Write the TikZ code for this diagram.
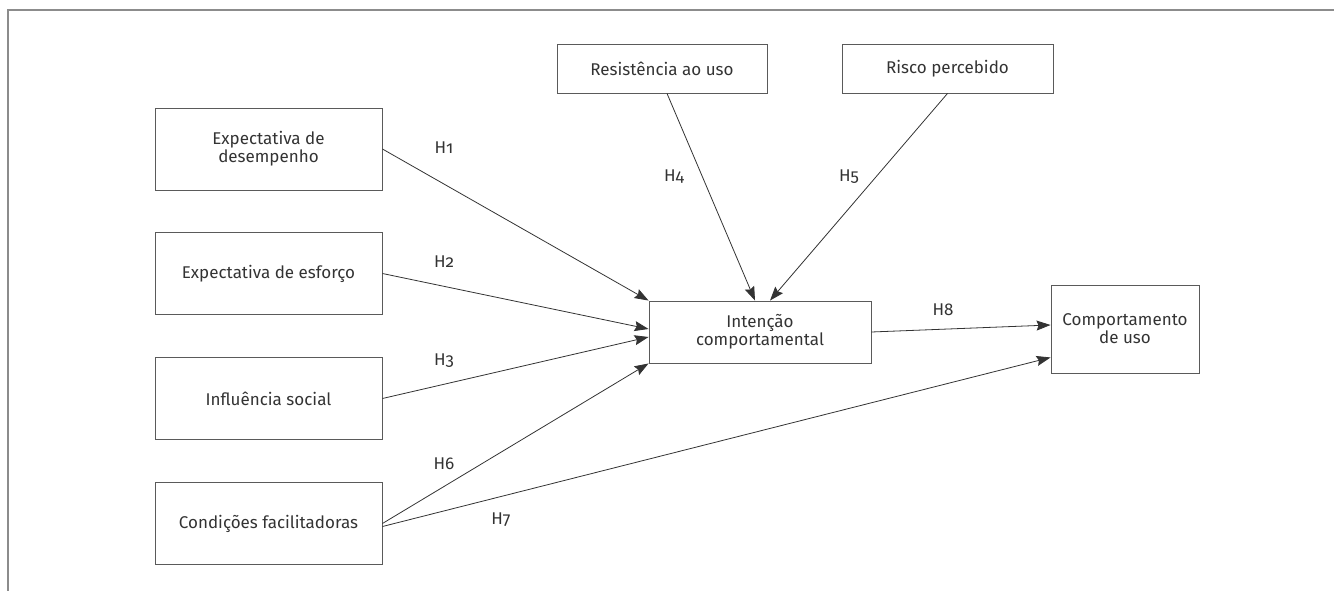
\documentclass[tikz,border=0pt]{standalone}
\usepackage{fontspec}
\setmainfont{Fira Sans}
\newfontfamily\hypfont[Numbers=OldStyle]{Fira Sans}
\usetikzlibrary{arrows.meta}
\definecolor{inkgray}{HTML}{333333}
\definecolor{boxgray}{HTML}{5A5A5A}
\definecolor{framegray}{HTML}{8C8C8C}

\begin{document}
\begin{tikzpicture}
[
    x=1pt, y=-1pt,
    construct/.style={draw=boxgray, line width=0.9pt, text=inkgray, align=center,
        inner sep=0pt, font=\fontsize{17}{18}\selectfont},
    hyp/.style={text=inkgray, inner sep=0pt, font=\hypfont\fontsize{17}{18}\selectfont},
    path/.style={draw=inkgray, line width=0.8pt, -{Stealth[length=14pt,width=10pt,inset=2pt]}},
]
\useasboundingbox (0,0) rectangle (1334,591);
\draw [framegray, line width=1.4pt] (8,591) -- (8,10) -- (1334,10);

\node [construct, minimum width=227pt, minimum height=82pt] (desempenho) at (268.5,149) {Expectativa de\\desempenho};
\node [construct, minimum width=227pt, minimum height=82pt] (esforco) at (268.5,273.5) {Expectativa de esforço};
\node [construct, minimum width=227pt, minimum height=82pt] (social) at (268.5,398.5) {Influência social};
\node [construct, minimum width=227pt, minimum height=82pt] (condicoes) at (268.5,523.5) {Condições facilitadoras};
\node [construct, minimum width=210pt, minimum height=49pt] (resistencia) at (662,68.5) {Resistência ao uso};
\node [construct, minimum width=211pt, minimum height=49pt] (risco) at (947.5,68.5) {Risco percebido};
\node [construct, minimum width=222pt, minimum height=62pt] (intencao) at (760,332) {Intenção\\comportamental};
\node [construct, minimum width=148pt, minimum height=88pt] (comportamento) at (1125,329) {Comportamento\\de uso};

\draw [path] (desempenho.east) -- (intencao.north west);
\draw [path] (esforco.east) -- ([yshift=3pt]intencao.west);
\draw [path] (social.east) -- ([yshift=-5pt]intencao.west);
\draw [path] (condicoes.east) -- (intencao.south west);
\draw [path] ([xshift=5pt]resistencia.south) -- ([xshift=-5pt]intencao.north);
\draw [path] (risco.south) -- ([xshift=10pt]intencao.north);
\draw [path] (intencao.east) -- ([yshift=4pt]comportamento.west);
\draw [path] ([yshift=-3pt]condicoes.east) -- ([yshift=16pt]comportamento.south west);

\node [hyp] (h1) at (444,148) {H1};
\node [hyp] (h2) at (444,262) {H2};
\node [hyp] (h3) at (444,361) {H3};
\node [hyp] (h4) at (674,177) {H4};
\node [hyp] (h5) at (849,177) {H5};
\node [hyp] (h6) at (444,464) {H6};
\node [hyp] (h7) at (501,520) {H7};
\node [hyp] (h8) at (943,310) {H8};
\end{tikzpicture}
\end{document}
